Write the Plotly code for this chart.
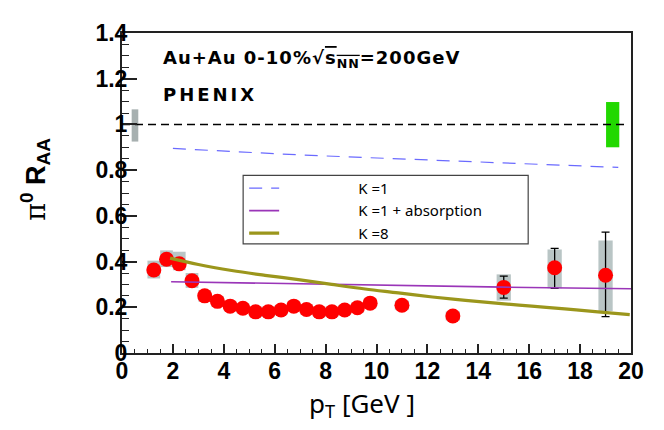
import plotly.graph_objects as go

# ---- data ----
pt = [1.25, 1.75, 2.25, 2.75, 3.25, 3.75, 4.25, 4.75, 5.25, 5.75, 6.25, 6.75,
      7.25, 7.75, 8.25, 8.75, 9.25, 9.75, 11, 13, 15, 17, 19]
raa = [0.363, 0.41, 0.39, 0.316, 0.25, 0.226, 0.205, 0.196, 0.18, 0.18, 0.188, 0.205,
       0.19, 0.18, 0.18, 0.188, 0.198, 0.218, 0.209, 0.162, 0.287, 0.373, 0.34]
stat_up = [0, 0, 0, 0, 0, 0, 0, 0, 0, 0, 0, 0, 0, 0, 0, 0, 0, 0, 0, 0, 0.049, 0.085, 0.189]
stat_dn = [0, 0, 0, 0, 0, 0, 0, 0, 0, 0, 0, 0, 0, 0, 0, 0, 0, 0, 0, 0, 0.047, 0.09, 0.181]
sys_lo = [0.326, 0.376, 0.362, 0.285, 0.225, 0.203, 0.183, 0.174, 0.158, 0.158, 0.166, 0.183,
          0.168, 0.158, 0.158, 0.166, 0.176, 0.196, 0.189, 0.142, 0.229, 0.283, 0.184]
sys_hi = [0.404, 0.449, 0.443, 0.35, 0.275, 0.249, 0.227, 0.218, 0.202, 0.202, 0.21, 0.227,
          0.212, 0.202, 0.202, 0.21, 0.22, 0.24, 0.229, 0.182, 0.344, 0.453, 0.492]

k1_pt = [2, 4, 6, 8, 10, 12, 14, 16, 18, 19.5]
k1_raa = [0.895, 0.882, 0.872, 0.862, 0.853, 0.845, 0.837, 0.829, 0.82, 0.812]

abs_pt = [1.93, 5, 10, 15, 20]
abs_raa = [0.312, 0.306, 0.296, 0.288, 0.281]

k8_pt = [1.89, 3.0, 4.31, 5.62, 6.93, 8.24, 9.55, 10.86, 12.2, 13.5, 14.8, 16.1, 17.4, 18.7, 19.95]
k8_raa = [0.415, 0.387, 0.361, 0.340, 0.321, 0.300, 0.280, 0.263, 0.245, 0.23, 0.217, 0.205,
          0.193, 0.18, 0.168]

ref_x = [0, 19.8]
ref_y = [1, 1]

norm_au_x = [0.51]
norm_au_lo = [0.925]
norm_au_hi = [1.066]
norm_pp_x = [19.28]
norm_pp_lo = [0.9]
norm_pp_hi = [1.098]

x_ticks = [0, 2, 4, 6, 8, 10, 12, 14, 16, 18, 20]
y_ticks = [0, 0.2, 0.4, 0.6, 0.8, 1, 1.2, 1.4]

NB = "\u00a0"
legend_names = ["K =1", "K =1 + absorption", "K =8"]

fig = go.Figure()

# global normalisation boxes
fig.add_trace(go.Bar(x=norm_au_x, base=norm_au_lo,
                     y=[h - l for h, l in zip(norm_au_hi, norm_au_lo)],
                     width=0.26, marker=dict(color="#a7b0b0", line=dict(width=0)),
                     showlegend=False, hoverinfo="skip"))
fig.add_trace(go.Bar(x=norm_pp_x, base=norm_pp_lo,
                     y=[h - l for h, l in zip(norm_pp_hi, norm_pp_lo)],
                     width=0.52, marker=dict(color="#22d800", line=dict(width=0)),
                     showlegend=False, hoverinfo="skip"))
# systematic boxes
fig.add_trace(go.Bar(x=pt, base=sys_lo, y=[h - l for h, l in zip(sys_hi, sys_lo)],
                     width=[0.5 if p < 10 else 0.56 for p in pt],
                     marker=dict(color="#b9c5c5", line=dict(width=0)),
                     showlegend=False, hoverinfo="skip"))

# reference line at 1
fig.add_trace(go.Scatter(x=ref_x, y=ref_y, mode="lines",
                         line=dict(color="black", width=1.5, dash="8px,5px"),
                         showlegend=False))

# data points
fig.add_trace(go.Scatter(x=pt, y=raa, mode="markers",
                         marker=dict(color="#ff0000", size=15, line=dict(width=0)),
                         error_y=dict(type="data", array=stat_up, arrayminus=stat_dn,
                                      color="black", thickness=1.3, width=4),
                         showlegend=False))

# model curves
fig.add_trace(go.Scatter(x=k1_pt, y=k1_raa, mode="lines", name=NB * 19 + legend_names[0],
                         line=dict(color="#6a6aff", width=1.2, dash="13px,9px")))
fig.add_trace(go.Scatter(x=abs_pt, y=abs_raa, mode="lines", name=NB * 19 + legend_names[1],
                         line=dict(color="#9a35b8", width=1.6)))
fig.add_trace(go.Scatter(x=k8_pt, y=k8_raa, mode="lines", name=NB * 19 + legend_names[2],
                         line=dict(color="#9b961c", width=3.2), line_shape="spline"))

tickfont = dict(family="Liberation Sans", size=23, color="black", weight="bold")
labfont = dict(family="DejaVu Sans", size=18, color="black", weight="bold")

# the page body adds an 8px offset; the figure is sized to fill the rest of the window
fig.update_layout(
    width=656, height=422,
    margin=dict(l=114, r=33, t=17, b=77),
    paper_bgcolor="white", plot_bgcolor="white",
    barmode="overlay",
    xaxis=dict(range=[0, 20], tickvals=x_ticks, ticktext=[str(v) for v in x_ticks],
               ticks="inside", ticklen=9, tickwidth=1.5, tickcolor="#222",
               minor=dict(dtick=0.5, ticks="inside", ticklen=4, tickwidth=1.2, tickcolor="#222"),
               showline=True, linecolor="#222", linewidth=2, mirror=True,
               showgrid=False, zeroline=False, tickfont=tickfont, ticklabelstandoff=-4),
    yaxis=dict(range=[0, 1.4], tickvals=y_ticks, ticktext=[f"{v:g}" for v in y_ticks],
               ticks="inside", ticklen=15, tickwidth=1.5, tickcolor="#222",
               minor=dict(dtick=0.05, ticks="inside", ticklen=7, tickwidth=1.2, tickcolor="#222"),
               showline=True, linecolor="#222", linewidth=2, mirror=True,
               showgrid=False, zeroline=False, tickfont=tickfont, ticklabelstandoff=-12),
    legend=dict(x=0.24, y=0.566, xanchor="left", yanchor="top",
                bgcolor="rgba(0,0,0,0)", borderwidth=0,
                font=dict(family="Noto Sans", size=15, color="black"),
                itemwidth=30, tracegroupgap=0),
    shapes=[dict(type="rect", xref="paper", yref="paper",
                 x0=0.238, x1=0.798, y0=0.341, y1=0.555,
                 line=dict(color="#444", width=1.2), fillcolor="rgba(0,0,0,0)")],
    annotations=[
        dict(text="<span style='letter-spacing:1px'>Au+Au 0-10%\u221a<span style='text-decoration:overline'>s<sub>NN</sub></span>=200GeV</span>",
             xref="paper", yref="paper", x=0.077, y=0.918, xanchor="left", yanchor="middle",
             showarrow=False, font=labfont),
        dict(text="<span style='letter-spacing:3px'>PHENIX</span>", xref="paper", yref="paper",
             x=0.077, y=0.808, xanchor="left", yanchor="middle", showarrow=False,
             font=labfont),
        dict(text="p<sub>T</sub> [GeV ]", xref="paper", yref="paper", x=0.4715, y=-0.16,
             xanchor="center", yanchor="middle", showarrow=False,
             font=dict(family="Noto Sans", size=26, color="black")),
        dict(text="<span style='font-family:DejaVu Serif;font-weight:normal'>\u03c0</span><sup>0</sup> R<sub>AA</sub>",
             xref="paper", yref="paper", x=-0.17, y=0.543, textangle=-90,
             xanchor="center", yanchor="middle", showarrow=False,
             font=dict(family="Liberation Sans", size=27, color="black", weight="bold")),
    ],
)

fig.write_html("out.html")
